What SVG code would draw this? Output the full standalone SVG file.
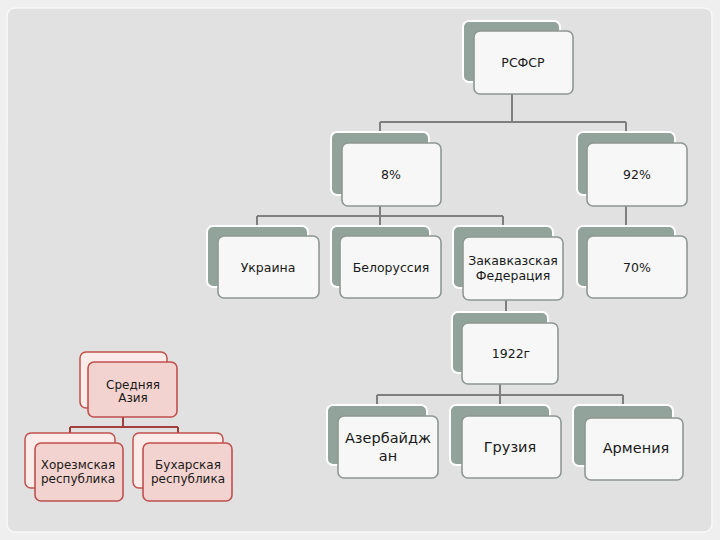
<svg xmlns="http://www.w3.org/2000/svg" width="720" height="540" viewBox="0 0 720 540">
<style>
.bk{fill:#92a39c;stroke:#ffffff;stroke-width:2}
.fr{fill:#f6f7f6;stroke:#8e9893;stroke-width:1.6}
.pbk{fill:#fbecea;stroke:#c0504d;stroke-width:1.5}
.pfr{fill:#f3d3cf;stroke:#c0504d;stroke-width:1.6}
.t{font-family:"DejaVu Sans","Liberation Sans",sans-serif;font-size:12.5px;fill:#1a1a1a;text-anchor:middle}
.tb{font-size:14.5px}
.tp{font-size:12px}
.c{fill:none;stroke:#7f7f7f;stroke-width:2}
.pc{fill:none;stroke:#a4403c;stroke-width:2}
</style>
<rect x="0" y="0" width="720" height="540" fill="#efefef"/>
<rect x="7" y="8" width="705" height="524" rx="8" fill="#e1e1e1" stroke="#f8f8f8" stroke-width="1.5"/>
<g id="connectors">
<path class="c" d="M512,94 V122 M380,122 H626 M380,122 V132 M626,122 V132"/>
<path class="c" d="M380,206 V216 M257,216 H503 M257,216 V226 M380,216 V226 M503,216 V226"/>
<path class="c" d="M626,206 V226"/>
<path class="c" d="M506,300 V312"/>
<path class="c" d="M500,384 V395 M377,395 H623 M377,395 V405 M500,395 V405 M623,395 V405"/>
<path class="pc" d="M123,417 V427 M70,427 H178 M70,427 V433 M178,427 V433"/>
</g>
<g id="n-rsfsr"><rect class="bk" x="463" y="21" width="97" height="61" rx="6"/><rect class="fr" x="474" y="31" width="99" height="63" rx="6"/><text class="t" x="523" y="67">РСФСР</text></g>
<g id="n-8"><rect class="bk" x="331" y="132" width="98" height="63" rx="6"/><rect class="fr" x="342" y="143" width="99" height="63" rx="6"/><text class="t" x="391" y="179">8%</text></g>
<g id="n-92"><rect class="bk" x="577" y="132" width="98" height="63" rx="6"/><rect class="fr" x="587" y="143" width="100" height="63" rx="6"/><text class="t" x="637" y="179">92%</text></g>
<g id="n-ukr"><rect class="bk" x="207" y="226" width="101" height="61" rx="6"/><rect class="fr" x="218" y="236" width="101" height="62" rx="6"/><text class="t" x="268" y="272">Украина</text></g>
<g id="n-bel"><rect class="bk" x="331" y="226" width="99" height="61" rx="6"/><rect class="fr" x="340" y="236" width="101" height="62" rx="6"/><text class="t" x="391" y="272">Белоруссия</text></g>
<g id="n-zak"><rect class="bk" x="453" y="226" width="100" height="62" rx="6"/><rect class="fr" x="463" y="237" width="100" height="63" rx="6"/><text class="t" x="513" y="265">Закавказская</text><text class="t" x="513" y="280">Федерация</text></g>
<g id="n-70"><rect class="bk" x="577" y="226" width="98" height="61" rx="6"/><rect class="fr" x="587" y="236" width="100" height="62" rx="6"/><text class="t" x="637" y="272">70%</text></g>
<g id="n-1922"><rect class="bk" x="452" y="312" width="96" height="61" rx="6"/><rect class="fr" x="462" y="323" width="96" height="61" rx="6"/><text class="t" x="511" y="358">1922г</text></g>
<g id="n-az"><rect class="bk" x="327" y="405" width="100" height="60" rx="6"/><rect class="fr" x="338" y="416" width="100" height="62" rx="6"/><text class="t tb" x="388" y="443">Азербайдж</text><text class="t tb" x="388" y="461">ан</text></g>
<g id="n-gr"><rect class="bk" x="450" y="405" width="100" height="60" rx="6"/><rect class="fr" x="462" y="416" width="99" height="62" rx="6"/><text class="t tb" x="510" y="452">Грузия</text></g>
<g id="n-arm"><rect class="bk" x="573" y="405" width="100" height="61" rx="6"/><rect class="fr" x="585" y="418" width="98" height="62" rx="6"/><text class="t tb" x="636" y="453">Армения</text></g>
<g id="n-sa"><rect class="pbk" x="80" y="352" width="87" height="56" rx="6"/><rect class="pfr" x="88" y="362" width="89" height="55" rx="6"/><text class="t tp" x="133" y="389">Средняя</text><text class="t tp" x="133" y="402">Азия</text></g>
<g id="n-hor"><rect class="pbk" x="25" y="433" width="90" height="55" rx="6"/><rect class="pfr" x="35" y="443" width="88" height="58" rx="6"/><text class="t tp" x="78" y="469">Хорезмская</text><text class="t tp" x="78" y="483">республика</text></g>
<g id="n-buh"><rect class="pbk" x="133" y="433" width="90" height="55" rx="6"/><rect class="pfr" x="143" y="443" width="89" height="58" rx="6"/><text class="t tp" x="188" y="469">Бухарская</text><text class="t tp" x="188" y="483">республика</text></g>
</svg>
